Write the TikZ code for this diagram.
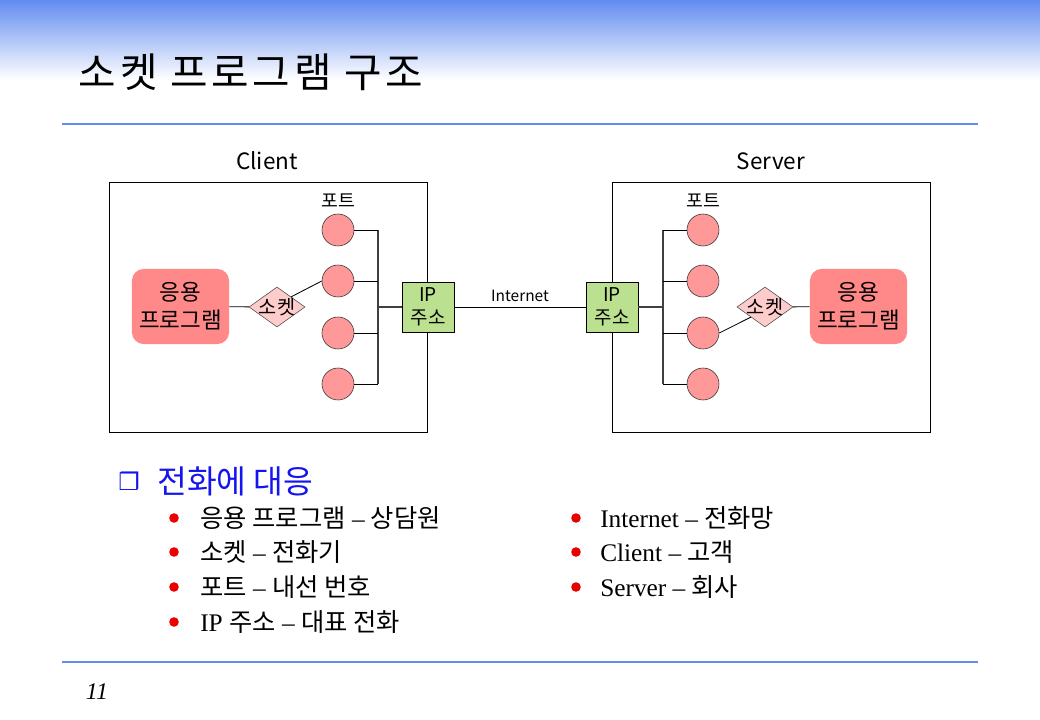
\documentclass[tikz,border=0pt]{standalone}
\usepackage{fontspec}
\setmainfont{Liberation Serif}
\newfontfamily\kr{Noto Sans CJK KR}
\newfontfamily\krwide[LetterSpace=9]{Noto Sans CJK KR}
\newfontfamily\sym{DejaVu Sans}
\usetikzlibrary{
  shapes.geometric,
  positioning,
  calc
}
\definecolor{slideblue}{RGB}{98,140,240}
\definecolor{appred}{RGB}{255,136,136}
\definecolor{portred}{RGB}{255,153,153}
\definecolor{sockpink}{RGB}{255,204,204}
\definecolor{ipgreen}{RGB}{187,224,143}
\definecolor{bulletred}{RGB}{235,0,0}
\definecolor{headblue}{RGB}{20,20,240}
\tikzset{
  hostbox/.style={draw=black, line width=0.6pt, minimum width=7.93cm, minimum height=6.25cm},
  appbox/.style={fill=appred, rounded corners=0.3cm, minimum width=2.43cm,
    minimum height=1.88cm, align=center, font=\kr\fontsize{16}{20}\selectfont},
  sockbox/.style={diamond, aspect=1.4, draw=black!70, fill=sockpink, minimum width=1.4cm,
    minimum height=1cm, inner sep=-4pt, font=\kr\fontsize{14}{14}\selectfont},
  port/.style={circle, draw=black!80, fill=portred, minimum size=0.8cm, inner sep=0pt},
  ipbox/.style={draw=black, fill=ipgreen, minimum width=1.3cm, minimum height=1.25cm,
    align=center, inner sep=0pt, font=\kr\fontsize{13.5}{16}\selectfont},
  wire/.style={line width=0.6pt},
  bus/.style={line width=1pt, black!75},
  small/.style={font=\kr\fontsize{13}{14}\selectfont},
  item/.style={anchor=west, inner sep=0pt, font=\fontsize{18}{20}\selectfont},
  dot/.style={circle, fill=bulletred, minimum size=0.24cm, inner sep=0pt},
}

\begin{document}
\begin{tikzpicture}[x=0.025cm, y=-0.025cm]
  \useasboundingbox (0,0) rectangle (1040,720);
  % slide head and rules
  \shade[top color=slideblue, bottom color=white] (0,0) rectangle (1040,80);
  \node[anchor=west, font=\krwide\fontsize{29}{32}\selectfont] (title) at (74,72) {소켓 프로그램 구조};
  \draw[slideblue, line width=2pt] (62,124) -- (978,124);
  \draw[slideblue, line width=2pt] (62,662) -- (978,662);
  \node[font=\itshape\fontsize{17}{20}\selectfont] (pagenum) at (97,692) {11};

  % hosts
  \node[hostbox] (client) at (268.5,307) {};
  \node[hostbox] (server) at (771.5,307) {};
  \node[font=\kr\fontsize{16}{18}\selectfont] (clientlbl) at (267,161) {Client};
  \node[font=\kr\fontsize{16}{18}\selectfont] (serverlbl) at (771,161) {Server};
  \node[small] (portlblC) at (338,201) {포트};
  \node[small] (portlblS) at (703,201) {포트};

  % ports
  \foreach \i/\y in {1/230,2/281,3/333,4/384} {
    \node[port] (pC\i) at (338,\y) {};
    \node[port] (pS\i) at (703,\y) {};
  }
  \coordinate (busC) at (378,307);
  \coordinate (busS) at (663,307);
  \draw[bus] (pC1.east -| busC) -- (pC4.east -| busC);
  \draw[bus] (pS1.west -| busS) -- (pS4.west -| busS);
  \foreach \i in {1,...,4} {
    \draw[wire] (pC\i.east) -- (pC\i.east -| busC);
    \draw[wire] (pS\i.west) -- (pS\i.west -| busS);
  }

  % IP addresses
  \node[ipbox] (ipC) at (428,307) {IP\\주소};
  \node[ipbox] (ipS) at (612,307) {IP\\주소};
  \draw[bus] (busC) -- (ipC.west);
  \draw[bus] (busS) -- (ipS.east);
  \draw[wire] (ipC.east) -- node[above, font=\kr\fontsize{11}{12}\selectfont] (inet) {Internet} (ipS.west);

  % applications and sockets
  \node[appbox] (appC) at (180.5,306.5) {응용\\프로그램};
  \node[sockbox] (sockC) at (277,307) {소켓};
  \draw[wire] (appC) -- (sockC);
  \draw[wire] (sockC.north east) -- (pC2.west);
  \node[appbox] (appS) at (858.5,306.5) {응용\\프로그램};
  \node[sockbox] (sockS) at (765,307) {소켓};
  \draw[wire] (sockS) -- (appS);
  \draw[wire] (sockS.south west) -- (pS3.east);

  % analogy list
  \node[anchor=west, inner sep=0pt, text=headblue, font=\sym\fontsize{17}{18}\selectfont] (boxmark) at (118,481) {❒};
  \node[anchor=west, inner sep=0pt, text=headblue, font=\kr\fontsize{23}{25}\selectfont] (head) at (157,481) {전화에 대응};
  \foreach \y in {518,552,587,622}
    \node[dot] at (174,\y) {};
  \foreach \y in {518,552,587}
    \node[dot] at (576,\y) {};
  \node[item] (itemA) at (200,518) {{\kr 응용 프로그램} – {\kr 상담원}};
  \node[item] (itemB) at (200,552) {{\kr 소켓} – {\kr 전화기}};
  \node[item] (itemC) at (200,587) {{\kr 포트} – {\kr 내선 번호}};
  \node[item] (itemD) at (200,622) {IP {\kr 주소} – {\kr 대표 전화}};
  \node[item] (itemE) at (600,518) {Internet – {\kr 전화망}};
  \node[item] (itemF) at (600,552) {Client – {\kr 고객}};
  \node[item] (itemG) at (600,587) {Server – {\kr 회사}};
\end{tikzpicture}
\end{document}
